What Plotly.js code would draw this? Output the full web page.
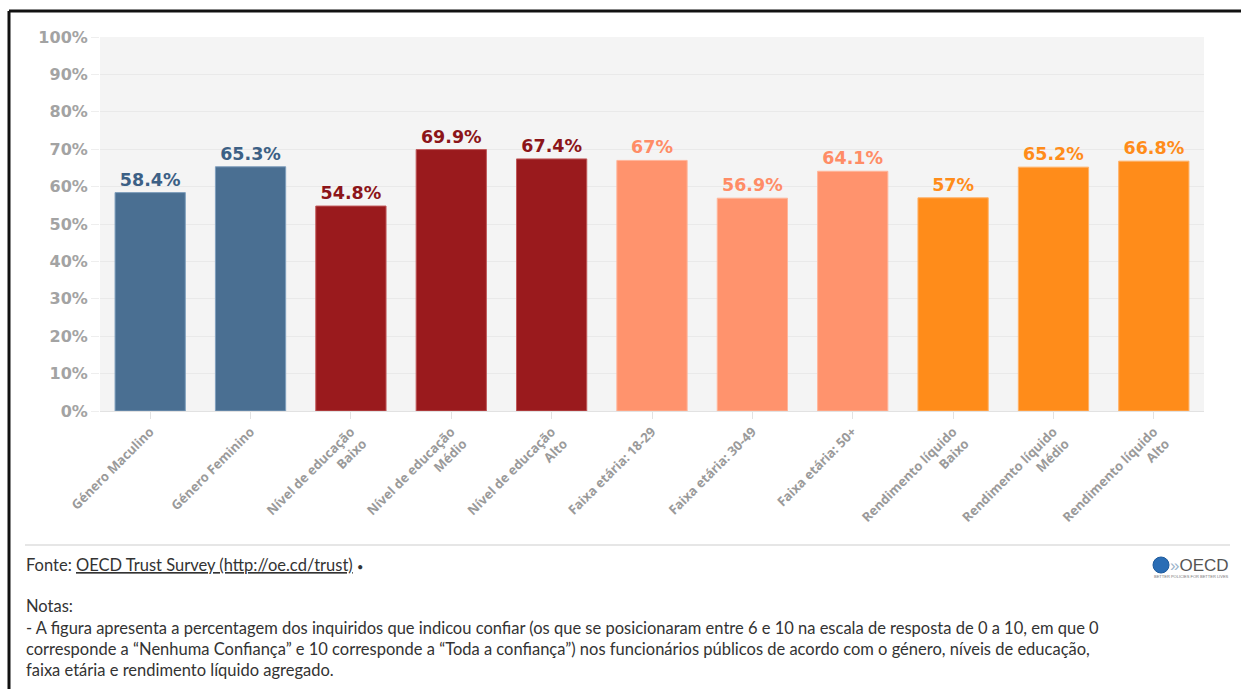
<!DOCTYPE html>
<html>
<head>
<meta charset="utf-8">
<script src="https://cdn.plot.ly/plotly-3.0.1.min.js"></script>
<style>
  html, body { margin: 0; padding: 0; background: #ffffff; }
  #chart { width: 1241px; height: 689px; }
</style>
</head>
<body>
<div id="chart"></div>
<script>
// ---- data ----
const categories = [
  "Género Maculino",
  "Género Feminino",
  "Nível de educação<br>Baixo",
  "Nível de educação<br>Médio",
  "Nível de educação<br>Alto",
  "Faixa etária: 18-29",
  "Faixa etária: 30-49",
  "Faixa etária: 50+",
  "Rendimento líquido<br>Baixo",
  "Rendimento líquido<br>Médio",
  "Rendimento líquido<br>Alto"
];
const values = [58.4, 65.3, 54.8, 69.9, 67.4, 67, 56.9, 64.1, 57, 65.2, 66.8];
const groups = [0, 0, 1, 1, 1, 2, 2, 2, 3, 3, 3];
const yTickValues = [0, 10, 20, 30, 40, 50, 60, 70, 80, 90, 100];

// ---- style ----
const palette = ["#4a6f92", "#9a1a1d", "#ff936d", "#ff8c1a"];
const outline = ["#7f9fbd", "#c0585a", "#ffb59a", "#ffb066"];
const labelColors = ["#3c6085", "#8c1519", "#ff8c66", "#ff8c1a"];

const trace = {
  type: "bar",
  x: categories,
  y: values,
  marker: {
    color: groups.map(g => palette[g]),
    line: { color: groups.map(g => outline[g]), width: 1 }
  },
  text: values.map(v => v + "%"),
  textposition: "outside",
  cliponaxis: false,
  textfont: {
    family: "DejaVu Sans", size: 17.5, weight: "bold",
    color: groups.map(g => labelColors[g])
  },
  hoverinfo: "none"
};

// paper coordinate helpers (plot area: x 100..1204, y 37..411 in px)
const L = 100, R = 1204, T = 37, B = 411;
const px = x => (x - L) / (R - L);
const py = y => (B - y) / (B - T);

const footFont = { family: "Lato", size: 16.5, color: "#333333" };
const notes = [
  "Notas:",
  "- A figura apresenta a percentagem dos inquiridos que indicou confiar (os que se posicionaram entre 6 e 10 na escala de resposta de 0 a 10, em que 0",
  "corresponde a “Nenhuma Confiança” e 10 corresponde a “Toda a confiança”) nos funcionários públicos de acordo com o género, níveis de educação,",
  "faixa etária e rendimento líquido agregado."
];
const noteY = [606, 628, 649, 670];

const annotations = [
  {
    xref: "paper", yref: "paper", x: px(24), y: py(565),
    xanchor: "left", yanchor: "middle", showarrow: false, align: "left",
    text: 'Fonte: <span style="text-decoration:underline">OECD Trust Survey (http://oe.cd/trust)</span> <span style="font-size:11px">•</span>',
    font: footFont
  },
  ...notes.map((t, i) => ({
    xref: "paper", yref: "paper", x: px(24), y: py(noteY[i]),
    xanchor: "left", yanchor: "middle", showarrow: false, align: "left",
    text: t, font: footFont
  })),
  {
    xref: "paper", yref: "paper", x: px(1168), y: py(565),
    xanchor: "left", yanchor: "middle", showarrow: false,
    text: '<span style="color:#9bb4cc">»</span>OECD',
    font: { family: "Liberation Sans", size: 17, color: "#555555" }
  },
  {
    xref: "paper", yref: "paper", x: px(1191), y: py(576),
    xanchor: "center", yanchor: "middle", showarrow: false,
    text: "BETTER POLICIES FOR BETTER LIVES", font: { family: "Liberation Sans", size: 4, color: "#777777" }
  }
];

const shapes = [
  // outer frame (top and left black border)
  { type: "line", xref: "paper", yref: "paper", x0: px(9), x1: px(1241), y0: py(11), y1: py(11),
    line: { color: "#111111", width: 3 } },
  { type: "line", xref: "paper", yref: "paper", x0: px(9), x1: px(9), y0: py(11), y1: py(689),
    line: { color: "#111111", width: 3 } },
  // footer separator
  { type: "line", xref: "paper", yref: "paper", x0: px(25), x1: px(1230), y0: py(545), y1: py(545),
    line: { color: "#e6e6e6", width: 2 } },
  // OECD globe
  { type: "circle", xref: "paper", yref: "paper", x0: px(1153), x1: px(1169), y0: py(557), y1: py(573),
    fillcolor: "#2a6db5", line: { color: "#1d5a9c", width: 1 } }
];

const layout = {
  width: 1241, height: 689,
  margin: { l: L, r: 1241 - R, t: T, b: 689 - B, pad: 0 },
  paper_bgcolor: "#ffffff",
  plot_bgcolor: "#f4f4f4",
  showlegend: false,
  bargap: 0.3,
  xaxis: {
    type: "category",
    tickangle: -45,
    tickfont: { family: "Noto Sans", size: 13, weight: "bold", color: "#9a9a9a" },
    ticks: "outside", ticklen: 7, tickcolor: "#e2e2e2", tickwidth: 1,
    showline: true, linecolor: "#e2e2e2", linewidth: 1,
    showgrid: false, fixedrange: true
  },
  yaxis: {
    range: [0, 100],
    tickvals: yTickValues,
    ticktext: yTickValues.map(v => v + "%"),
    tickfont: { family: "DejaVu Sans", size: 16, weight: "bold", color: "#a3a3a3" },
    ticks: "outside", ticklen: 8, tickcolor: "#eeeeee",
    showgrid: true, gridcolor: "#e9e9e9", gridwidth: 1,
    zeroline: false, showline: false, fixedrange: true
  },
  annotations: annotations,
  shapes: shapes
};

Plotly.newPlot("chart", [trace], layout, { displayModeBar: false, staticPlot: true });
</script>
</body>
</html>
